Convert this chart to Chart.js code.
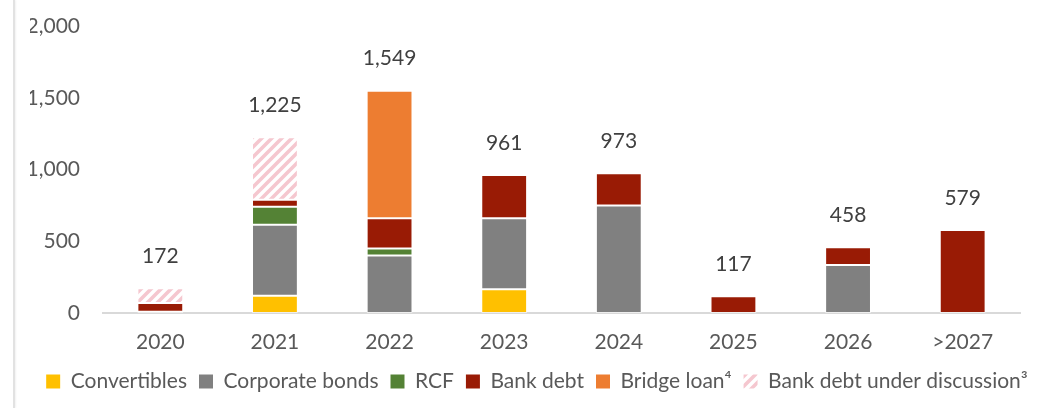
<!DOCTYPE html>
<html>
<head>
<meta charset="utf-8">
<script src="https://cdn.jsdelivr.net/npm/chart.js@4.4.1/dist/chart.umd.min.js"></script>
<style>
  html, body { margin: 0; padding: 0; background: #fff; }
  #wrap { position: relative; width: 1044px; height: 408px; }
  #wrap::before {
    content: ""; position: absolute; left: 13px; top: 0; width: 2px; height: 408px;
    background: #e2e2e2; box-shadow: 1px 0 2px rgba(0,0,0,0.06);
  }
  canvas { position: absolute; left: 0; top: 0; }
</style>
</head>
<body>
<div id="wrap"><canvas id="c" width="1044" height="408"></canvas></div>
<script>
// Debt maturity profile (in millions)
const categories = ['2020', '2021', '2022', '2023', '2024', '2025', '2026', '>2027'];
const convertibles     = [0,   120, 0,   165, 0,   0,   0,   0];
const corporateBonds   = [8,   495, 400, 495, 750, 0,   335, 0];
const rcf              = [0,   126, 50,  0,   0,   0,   0,   0];
const bankDebt         = [62,  49,  210, 301, 223, 117, 123, 579];
const bridgeLoan       = [0,   0,   889, 0,   0,   0,   0,   0];
const bankDebtUnderDiscussion = [102, 435, 0, 0, 0, 0, 0, 0];
const totals = [172, 1225, 1549, 961, 973, 117, 458, 579];
const yTicks = [0, 500, 1000, 1500, 2000];

const FONT = 'Lato, "Open Sans", sans-serif';

// Diagonal pink stripes for the "under discussion" series
function makeHatch() {
  const s = 10;
  const t = document.createElement('canvas');
  t.width = s; t.height = s;
  const g = t.getContext('2d');
  g.fillStyle = '#ffffff';
  g.fillRect(0, 0, s, s);
  g.strokeStyle = '#F5C7CF';
  g.lineWidth = 3.6;
  g.beginPath();
  g.moveTo(-2, s + 2); g.lineTo(s + 2, -2);
  g.moveTo(-2, 2); g.lineTo(2, -2);
  g.moveTo(s - 2, s + 2); g.lineTo(s + 2, s - 2);
  g.stroke();
  return g.createPattern(t, 'repeat');
}

const ctx = document.getElementById('c').getContext('2d');
const hatch = makeHatch();

// Writes the stack totals above each bar
const totalLabels = {
  id: 'totalLabels',
  afterDatasetsDraw(chart) {
    const y = chart.scales.y, x = chart.scales.x, c = chart.ctx;
    c.save();
    c.font = '21px ' + FONT;
    c.fillStyle = '#404040';
    c.textAlign = 'center';
    c.textBaseline = 'middle';
    totals.forEach((v, i) => {
      c.fillText(v.toLocaleString('en-US'), x.getPixelForValue(i), y.getPixelForValue(v) - 32);
    });
    c.restore();
  }
};

function ds(label, data, color) {
  return {
    label, data,
    backgroundColor: color,
    borderColor: 'rgba(255,255,255,0.55)',
    borderWidth: 1,
    borderSkipped: false,
    barPercentage: 0.4,
    categoryPercentage: 1.0
  };
}

new Chart(ctx, {
  type: 'bar',
  data: {
    labels: categories,
    datasets: [
      ds('Convertibles', convertibles, '#FFC000'),
      ds('Corporate bonds', corporateBonds, '#808080'),
      ds('RCF', rcf, '#548235'),
      ds('Bank debt', bankDebt, '#991B05'),
      ds('Bridge loan\u2074', bridgeLoan, '#ED7D31'),
      ds('Bank debt under discussion\u00B3', bankDebtUnderDiscussion, hatch)
    ]
  },
  options: {
    responsive: false,
    animation: false,
    layout: { padding: { top: 26, right: 0, bottom: 6, left: 30 } },
    scales: {
      x: {
        stacked: true,
        afterFit(scale) { scale.height = 46; scale.paddingLeft = 0; scale.paddingRight = 24; },
        grid: { display: false, drawTicks: false },
        border: { display: true, color: '#D9D9D9', width: 2 },
        ticks: { color: '#595959', font: { family: FONT, size: 21 }, padding: 17 }
      },
      y: {
        stacked: true,
        min: 0, max: 2000,
        afterFit(scale) { scale.width = 73; scale.paddingTop = 0; scale.paddingBottom = 0; },
        afterBuildTicks(scale) { scale.ticks = yTicks.map(v => ({ value: v })); },
        grid: { display: false, drawTicks: false },
        border: { display: false },
        ticks: {
          color: '#595959', font: { family: FONT, size: 21 }, padding: 23,
          callback: v => Number(v).toLocaleString('en-US')
        }
      }
    },
    plugins: {
      tooltip: { enabled: false },
      legend: {
        position: 'bottom',
        labels: {
          color: '#595959',
          font: { family: FONT, size: 21 },
          boxWidth: 14, boxHeight: 14,
          padding: 12,
          generateLabels(chart) {
            const items = Chart.defaults.plugins.legend.labels.generateLabels(chart);
            items.forEach(it => { it.lineWidth = 0; it.strokeStyle = 'rgba(0,0,0,0)'; });
            return items;
          }
        }
      }
    }
  },
  plugins: [totalLabels]
});
</script>
</body>
</html>
